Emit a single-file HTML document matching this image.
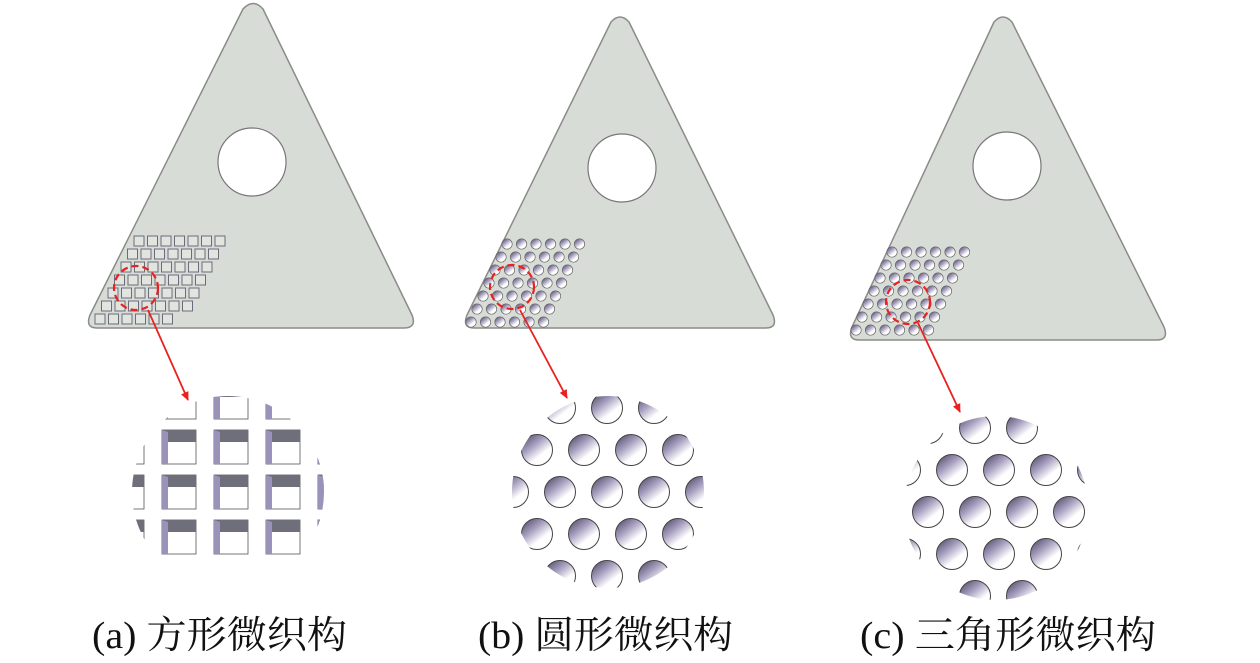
<!DOCTYPE html>
<html><head><meta charset="utf-8"><style>
html,body{margin:0;padding:0;background:#fff;width:1260px;height:663px;overflow:hidden}
</style></head><body>
<svg id="s" width="1260" height="663" xmlns="http://www.w3.org/2000/svg">
<defs>
<linearGradient id="cg" x1="0.1" y1="0" x2="0.8" y2="0.9"><stop offset="0" stop-color="#4e4a66"/><stop offset="0.4" stop-color="#a8a0c0"/><stop offset="0.75" stop-color="#fff"/><stop offset="1" stop-color="#fff"/></linearGradient>
<clipPath id="ca"><circle cx="228" cy="492" r="96"/></clipPath>
<clipPath id="cb"><circle cx="608" cy="492" r="96"/></clipPath>
<clipPath id="cc"><circle cx="996" cy="508" r="92"/></clipPath>
<marker id="ar" markerWidth="10" markerHeight="10" refX="8" refY="5" orient="auto" markerUnits="userSpaceOnUse"><path d="M0,1 L9,5 L0,9 Z" fill="#e8231f"/></marker>
</defs>
<g fill="#d8dcd6" stroke="#8a8c88" stroke-width="1.5" stroke-linejoin="round">
<path d="M243,9 Q253,-2 263,9 L412,315 Q417,328 404,328 L97,328 Q85,328 90,315 Z"/>
<path d="M611,22 Q620,12 629,22 L773,315 Q778,328 766,328 L474,328 Q462,328 467,315 Z"/>
<path d="M994,22 Q1003,12 1012,22 L1164,327 Q1169,340 1157,340 L859,340 Q847,340 852,327 Z"/>
</g>
<g fill="#fff" stroke="#777" stroke-width="1.2">
<circle cx="252" cy="162" r="34"/><circle cx="622" cy="168" r="34"/><circle cx="1007" cy="166" r="34"/>
</g>
<g id="tex"></g>
<g fill="none" stroke="#e8231f" stroke-width="2.2" stroke-dasharray="7,4">
<circle cx="136" cy="288" r="22"/><circle cx="512" cy="287" r="22"/><circle cx="908" cy="302" r="22"/>
</g>
<g stroke="#e8231f" stroke-width="1.8" marker-end="url(#ar)">
<line x1="148" y1="310" x2="188" y2="400"/><line x1="520" y1="310" x2="567" y2="398"/><line x1="918" y1="323" x2="960" y2="412"/>
</g>
<g id="mag"></g>
<g font-family="Liberation Serif, Noto Serif CJK SC, serif" font-size="38" fill="#111">
<text x="92" y="648" textLength="255" lengthAdjust="spacingAndGlyphs">(a) 方形微织构</text>
<text x="478" y="648" textLength="255" lengthAdjust="spacingAndGlyphs">(b) 圆形微织构</text>
<text x="860" y="648" textLength="296" lengthAdjust="spacingAndGlyphs">(c) 三角形微织构</text>
</g>
</svg>
<script>
var NS="http://www.w3.org/2000/svg";
function el(p,t,a){var e=document.createElementNS(NS,t);for(var k in a)e.setAttribute(k,a[k]);p.appendChild(e);return e;}
var tex=document.getElementById("tex"),mag=document.getElementById("mag");
for(var r=0;r<7;r++)for(var c=0;c<7;c++){if(r==6&&c>5)continue;var x=134-r*6.5+c*13.5,y=236+r*13;
el(tex,"rect",{x:x,y:y,width:10,height:10,fill:"#e2e4e0",stroke:"#6a6c7a","stroke-width":1});}
for(var r=0;r<7;r++)for(var c=0;c<6;c++){var x=507-r*6+c*14.5,y=244+r*13;
el(tex,"circle",{cx:x,cy:y,r:5.2,fill:"url(#cg)",stroke:"#666","stroke-width":0.7});}
for(var r=0;r<7;r++)for(var c=0;c<6;c++){var x=892-r*6+c*14.5,y=252+r*13;
el(tex,"circle",{cx:x,cy:y,r:5.2,fill:"url(#cg)",stroke:"#666","stroke-width":0.7});}
var ga=el(mag,"g",{"clip-path":"url(#ca)"});
for(var r=-1;r<4;r++)for(var c=-1;c<5;c++){var x=136+c*52+(r%2?-26:0),y=385+r*45;
if(r%2==0)x+=26;
el(ga,"rect",{x:x,y:y,width:34,height:34,fill:"#fff",stroke:"#555","stroke-width":0.8});
el(ga,"rect",{x:x,y:y,width:34,height:12,fill:"#6f6f7c"});
el(ga,"polygon",{points:x+","+y+" "+(x+6)+","+(y+2)+" "+(x+6)+","+(y+34)+" "+x+","+(y+34),fill:"#9a92b8"});}
var gb=el(mag,"g",{"clip-path":"url(#cb)"});
for(var r=0;r<5;r++)for(var c=-1;c<5;c++){var x=560+c*47+(r%2?-23:0),y=408+r*42;
el(gb,"circle",{cx:x,cy:y,r:15.5,fill:"url(#cg)",stroke:"#444","stroke-width":1});}
var gc=el(mag,"g",{"clip-path":"url(#cc)"});
for(var r=0;r<5;r++)for(var c=-1;c<5;c++){var x=975+c*47+(r%2?-23:0),y=428+r*42;
el(gc,"circle",{cx:x,cy:y,r:15.5,fill:"url(#cg)",stroke:"#444","stroke-width":1});}
</script>
</body></html>
